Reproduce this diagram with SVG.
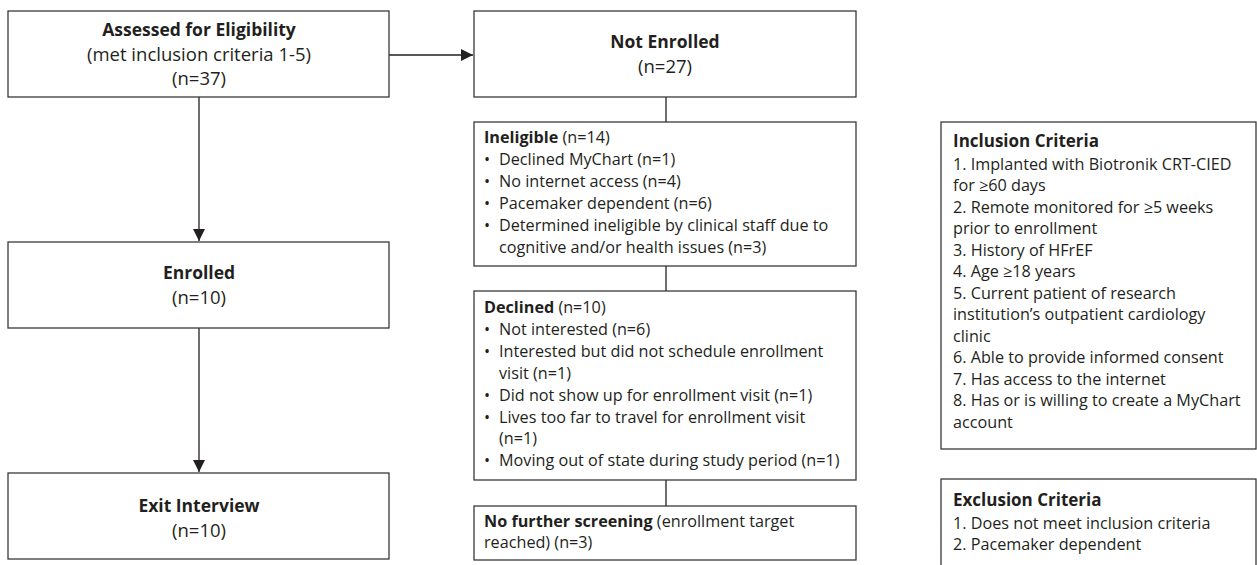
<svg xmlns="http://www.w3.org/2000/svg" width="1257" height="565" viewBox="0 0 1257 565">
<style>
.box{fill:#fff;stroke:#3a3a3a;stroke-width:1.3}
.t{font-family:"Open Sans","Liberation Sans",sans-serif;font-size:16.2px;fill:#231f20}
.L{font-size:18.5px}
.c{text-anchor:middle}
.b{font-weight:bold}
.LB{font-size:17.5px;font-weight:bold}
.h{font-size:17px;font-weight:bold}
.ln{stroke:#231f20;stroke-width:1.3;fill:none}
</style>
<defs>
<marker id="ah" viewBox="0 0 12 12" refX="12" refY="6" markerWidth="12" markerHeight="12" markerUnits="userSpaceOnUse" orient="auto">
<path d="M0,0 L12,6 L0,12 z" fill="#231f20"/>
</marker>
</defs>
<g id="connectors">
<line class="ln" x1="389" y1="55" x2="473" y2="55" marker-end="url(#ah)"/>
<line class="ln" x1="199" y1="97" x2="199" y2="241" marker-end="url(#ah)"/>
<line class="ln" x1="199" y1="328" x2="199" y2="472" marker-end="url(#ah)"/>
<line class="ln" x1="666" y1="97" x2="666" y2="122"/>
<line class="ln" x1="666" y1="266" x2="666" y2="291"/>
<line class="ln" x1="666" y1="480" x2="666" y2="506"/>
</g>
<g id="assessed">
<rect class="box" x="8" y="11" width="381" height="86"/>
<text class="t c LB" x="199" y="36">Assessed for Eligibility</text>
<text class="t c L" x="199" y="61">(met inclusion criteria 1-5)</text>
<text class="t c L" x="199" y="85">(n=37)</text>
</g>
<g id="enrolled">
<rect class="box" x="8" y="242" width="381" height="86"/>
<text class="t c LB" x="199" y="279">Enrolled</text>
<text class="t c L" x="199" y="304">(n=10)</text>
</g>
<g id="exit">
<rect class="box" x="8" y="473" width="381" height="86"/>
<text class="t c LB" x="199" y="512">Exit Interview</text>
<text class="t c L" x="199" y="537">(n=10)</text>
</g>
<g id="not-enrolled">
<rect class="box" x="474" y="11" width="382" height="86"/>
<text class="t c LB" x="665" y="48">Not Enrolled</text>
<text class="t c L" x="665" y="73">(n=27)</text>
</g>
<g id="ineligible">
<rect class="box" x="474" y="122" width="382" height="144"/>
<text class="t" x="484" y="143"><tspan class="b">Ineligible</tspan> (n=14)</text>
<text class="t" x="484" y="165">•</text><text class="t" x="499" y="165">Declined MyChart (n=1)</text>
<text class="t" x="484" y="187">•</text><text class="t" x="499" y="187">No internet access (n=4)</text>
<text class="t" x="484" y="209">•</text><text class="t" x="499" y="209">Pacemaker dependent (n=6)</text>
<text class="t" x="484" y="231">•</text><text class="t" x="499" y="231">Determined ineligible by clinical staff due to</text>
<text class="t" x="499" y="253">cognitive and/or health issues (n=3)</text>
</g>
<g id="declined">
<rect class="box" x="474" y="291" width="382" height="189"/>
<text class="t" x="484" y="313"><tspan class="b">Declined</tspan> (n=10)</text>
<text class="t" x="484" y="335">•</text><text class="t" x="499" y="335">Not interested (n=6)</text>
<text class="t" x="484" y="357">•</text><text class="t" x="499" y="357">Interested but did not schedule enrollment</text>
<text class="t" x="499" y="379">visit (n=1)</text>
<text class="t" x="484" y="401">•</text><text class="t" x="499" y="401">Did not show up for enrollment visit (n=1)</text>
<text class="t" x="484" y="423">•</text><text class="t" x="499" y="423">Lives too far to travel for enrollment visit</text>
<text class="t" x="499" y="444">(n=1)</text>
<text class="t" x="484" y="466">•</text><text class="t" x="499" y="466">Moving out of state during study period (n=1)</text>
</g>
<g id="no-further">
<rect class="box" x="474" y="506" width="382" height="54"/>
<text class="t" x="484" y="527"><tspan class="b">No further screening</tspan> (enrollment target</text>
<text class="t" x="484" y="548">reached) (n=3)</text>
</g>
<g id="inclusion">
<rect class="box" x="941" y="122" width="315" height="327"/>
<text class="t h" x="953" y="147">Inclusion Criteria</text>
<text class="t" x="953" y="170">1. Implanted with Biotronik CRT-CIED</text>
<text class="t" x="953" y="191">for ≥60 days</text>
<text class="t" x="953" y="213">2. Remote monitored for ≥5 weeks</text>
<text class="t" x="953" y="234">prior to enrollment</text>
<text class="t" x="953" y="256">3. History of HFrEF</text>
<text class="t" x="953" y="277">4. Age ≥18 years</text>
<text class="t" x="953" y="299">5. Current patient of research</text>
<text class="t" x="953" y="320">institution’s outpatient cardiology</text>
<text class="t" x="953" y="342">clinic</text>
<text class="t" x="953" y="363">6. Able to provide informed consent</text>
<text class="t" x="953" y="385">7. Has access to the internet</text>
<text class="t" x="953" y="406">8. Has or is willing to create a MyChart</text>
<text class="t" x="953" y="428">account</text>
</g>
<g id="exclusion">
<rect class="box" x="941" y="479" width="315" height="100"/>
<text class="t h" x="953" y="506">Exclusion Criteria</text>
<text class="t" x="953" y="529">1. Does not meet inclusion criteria</text>
<text class="t" x="953" y="550">2. Pacemaker dependent</text>
</g>
</svg>
